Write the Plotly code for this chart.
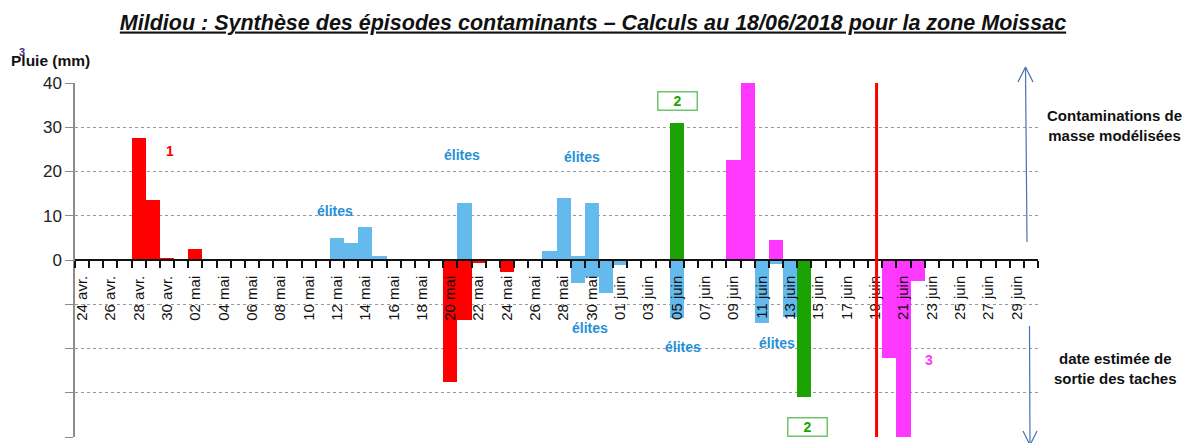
import plotly.graph_objects as go

# ---------------- data ----------------
MONTHS = [("avr.", 24, 30), ("mai", 1, 31), ("juin", 1, 30)]
DATES = [f"{d:02d} {m}" for m, a, b in MONTHS for d in range(a, b + 1)]
TICK_LABELS = DATES[::2]

red_rain_dates = ["28 avr.", "29 avr.", "30 avr.", "02 mai"]
red_rain_mm = [27.5, 13.6, 0.5, 2.5]
red_out_dates = ["20 mai", "21 mai", "22 mai", "24 mai"]
red_out_mm = [-27.6, -13.6, -0.6, -2.6]

blue_rain_dates = ["12 mai", "13 mai", "14 mai", "15 mai", "21 mai", "27 mai", "28 mai", "29 mai", "30 mai"]
blue_rain_mm = [5.0, 3.9, 7.5, 1.0, 12.9, 2.0, 14.0, 1.0, 12.9]
blue_out_dates = ["29 mai", "30 mai", "31 mai", "01 juin", "05 juin", "11 juin", "12 juin", "13 juin"]
blue_out_mm = [-5.2, -3.9, -7.5, -1.1, -13.0, -14.2, -1.0, -12.9]

green_rain_dates = ["05 juin"]
green_rain_mm = [31.0]
green_out_dates = ["14 juin"]
green_out_mm = [-31.0]

pink_rain_dates = ["09 juin", "10 juin", "12 juin"]
pink_rain_mm = [22.7, 40.0, 4.5]
pink_out_dates = ["20 juin", "21 juin", "22 juin"]
pink_out_mm = [-22.2, -40.0, -4.7]

JOUR_J = "19 juin"

# ---------------- styles ----------------
RED = "#ff0000"
BLUE = "#64baec"
GREEN = "#1aa303"
PINK = "#ff38ff"
ELITE_TXT = "#2590d6"
ARROW = "#4a72b0"
FONT = "Liberation Sans, Arial, sans-serif"

W, H = 1183, 443
L, R, T, B = 75, 145, 83, 6
PW, PH = W - L - R, H - T - B


def px(xp):
    return (xp - L) / PW


def py(yp):
    return (H - B - yp) / PH


def idx(dates):
    return [DATES.index(d) for d in dates]


fig = go.Figure()
series = [
    (red_rain_dates, red_rain_mm, RED),
    (red_out_dates, red_out_mm, RED),
    (blue_rain_dates, blue_rain_mm, BLUE),
    (blue_out_dates, blue_out_mm, BLUE),
    (green_rain_dates, green_rain_mm, GREEN),
    (green_out_dates, green_out_mm, GREEN),
    (pink_rain_dates, pink_rain_mm, PINK),
    (pink_out_dates, pink_out_mm, PINK),
]
for d, v, c in series:
    fig.add_trace(go.Bar(x=idx(d), y=v, width=1, marker=dict(color=c, line=dict(width=0)),
                         showlegend=False, cliponaxis=True, hoverinfo="skip"))

jx = DATES.index(JOUR_J)
shapes = [
    dict(type="line", xref="x", yref="y", x0=jx + 0.1, x1=jx + 0.1, y0=-40, y1=40,
         line=dict(color=RED, width=3)),
    # up arrow
    dict(type="line", xref="paper", yref="paper", x0=px(1027), x1=px(1025.5), y0=py(242), y1=py(67),
         line=dict(color=ARROW, width=1.2)),
    dict(type="line", xref="paper", yref="paper", x0=px(1018), x1=px(1025.5), y0=py(82), y1=py(67),
         line=dict(color=ARROW, width=1.2)),
    dict(type="line", xref="paper", yref="paper", x0=px(1033), x1=px(1025.5), y0=py(82), y1=py(67),
         line=dict(color=ARROW, width=1.2)),
    # down arrow
    dict(type="line", xref="paper", yref="paper", x0=px(1029.5), x1=px(1030), y0=py(326), y1=py(445),
         line=dict(color=ARROW, width=1.2)),
    dict(type="line", xref="paper", yref="paper", x0=px(1023), x1=px(1030), y0=py(431), y1=py(445),
         line=dict(color=ARROW, width=1.2)),
    dict(type="line", xref="paper", yref="paper", x0=px(1037), x1=px(1030), y0=py(431), y1=py(445),
         line=dict(color=ARROW, width=1.2)),
]


def dx(xp):
    return (xp - L) / (PW / 68.0) - 0.5


def dy(yp):
    return (T + PH / 2 - yp) / (PH / 80.0)


ann = []


def note(text, xp, yp, color, size=14, bold=True, **kw):
    t = f"<b>{text}</b>" if bold else text
    ann.append(dict(text=t, x=dx(xp), y=dy(yp), xref="x", yref="y", showarrow=False,
                    xanchor="center", yanchor="middle",
                    font=dict(family=FONT, size=size, color=color), **kw))


def pnote(text, xp, yp, color, size, xanchor="center"):
    ann.append(dict(text=text, x=px(xp), y=py(yp), xref="paper", yref="paper", showarrow=False,
                    xanchor=xanchor, yanchor="middle",
                    font=dict(family=FONT, size=size, color=color)))


note("1", 170, 151, RED)
for (a, b) in [(335, 211), (462, 155), (582, 157), (590, 328), (683, 347), (777, 343)]:
    note("élites", a, b, ELITE_TXT)
note("2", 677, 101, GREEN, bordercolor="#6cc46c", borderwidth=1.5, width=36, height=15, borderpad=1,
     bgcolor="white")
note("2", 807, 427, GREEN, bordercolor="#6cc46c", borderwidth=1.5, width=36, height=15, borderpad=1,
     bgcolor="white")
note("3", 749, 70, PINK)
note("3", 929, 360, PINK)
note("jour J", 866, 68, "#111111")

pnote("<b>Contaminations de<br>masse modélisées</b>", 1114, 125, "#111111", 15)
pnote("<b>date estimée de<br>sortie des taches</b>", 1115, 368, "#111111", 15)
pnote("<b>Pluie (mm)</b>", 9, 60, "#111111", 15.5, xanchor="left")
pnote("<b>3</b>", 22, 52, "#4b2a8c", 11)

fig.update_layout(
    width=W, height=H,
    margin=dict(l=L, r=R, t=T, b=B, autoexpand=False),
    paper_bgcolor="white", plot_bgcolor="white",
    barmode="overlay", bargap=0,
    font=dict(family=FONT, color="#111111"),
    title=dict(text="<b><i><u>Mildiou : Synthèse des épisodes contaminants – Calculs au 18/06/2018 pour la zone Moissac</u></i></b>",
               x=593 / W, xref="container", xanchor="center", y=1 - 22 / H, yref="container", yanchor="middle",
               font=dict(family=FONT, size=21.5, color="#111111")),
    shapes=shapes,
    annotations=ann,
    xaxis=dict(
        range=[-0.5, 67.5], anchor="free", position=0.5,
        tickmode="array", tickvals=list(range(0, 68, 2)), ticktext=TICK_LABELS,
        tickangle=-90, ticks="outside", ticklen=9, tickcolor="rgba(0,0,0,0)",
        tickfont=dict(family=FONT, size=15, color="#111111"),
        showline=True, linecolor="#111111", linewidth=1.5,
        showgrid=False, zeroline=False, automargin=False,
        minor=dict(tick0=-0.5, dtick=1, ticks="outside", ticklen=7, tickcolor="#111111",
                   tickwidth=1.5, showgrid=False),
        layer="above traces",
    ),
    yaxis=dict(
        range=[-40, 40], tickmode="array", tickvals=list(range(-40, 41, 10)),
        ticktext=["", "", "", "", "0", "10", "20", "30", "40"],
        ticks="outside", ticklen=8, tickcolor="#8c8c8c",
        tickfont=dict(family=FONT, size=17, color="#222222"),
        showline=True, linecolor="#8c8c8c", linewidth=1.5,
        showgrid=True, gridcolor="#9a9a9a", griddash="dot", gridwidth=1,
        zeroline=False, automargin=False,
    ),
)

fig.write_html("out.html", config={"displayModeBar": False},
               post_script="document.body.style.margin='0px';document.body.style.overflow='hidden';")
